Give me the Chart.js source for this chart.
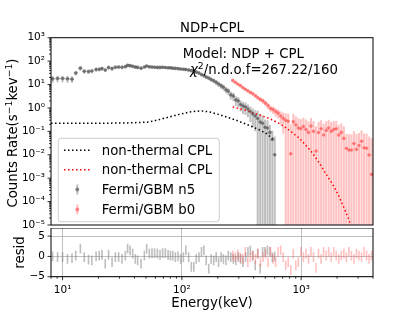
<!DOCTYPE html>
<html><head><meta charset="utf-8">
<script src="https://cdn.jsdelivr.net/npm/chart.js@4.4.0/dist/chart.umd.min.js"></script>
<style>
html,body{margin:0;padding:0;background:#fff;}
#wrap{position:relative;width:415px;height:311px;overflow:hidden;background:#fff;}
canvas{position:absolute;left:0;}
#cTop{top:0;width:415px;height:229px;}
#cRes{top:228px;width:415px;height:83px;}
</style></head><body>
<div id="wrap">
<canvas id="cTop" width="415" height="229"></canvas>
<canvas id="cRes" width="415" height="83"></canvas>
</div>
<script>
// ---------------- data ----------------
const titleText = 'NDP+CPL';
const modelText = 'Model: NDP + CPL';
const chiValue = '267.22/160';
const legendLabels = ['non-thermal CPL', 'non-thermal CPL', 'Fermi/GBM n5', 'Fermi/GBM b0'];

const yTickValues = [1e-5, 1e-4, 1e-3, 1e-2, 1e-1, 1, 10, 100, 1000];
const yTickLabels = ['10⁻⁵', '10⁻⁴', '10⁻³', '10⁻²', '10⁻¹', '10⁰', '10¹', '10²', '10³'];
const xTickValues = [10, 100, 1000];
const xTickLabels = ['10¹', '10²', '10³'];
const xMinorTicks = [8, 9, 20, 30, 40, 50, 60, 70, 80, 90, 200, 300, 400, 500, 600, 700, 800, 900, 2000, 3000, 4000];
const residTickValues = [-5, 0, 5];
const residTickLabels = ['−5', '0', '5'];

const n5Energy = [8.24, 9.08, 10.0, 11.0, 12.0, 12.9, 14.1, 15.2, 16.5, 17.6, 19.1, 20.3, 21.4, 22.8, 24.3, 26.0, 27.7, 29.5, 31.5, 33.6, 35.1, 36.8, 38.7, 40.7, 42.6, 45.5, 48.5, 50.7, 53.4, 56.2, 59.1, 62.3, 65.6, 69.0, 72.7, 76.6, 80.1, 83.8, 88.2, 92.9, 97.7, 103, 108, 114, 120,
  126, 132, 139, 146, 153, 160, 168, 176, 185, 194, 203, 213, 223, 234, 245, 257, 270, 283, 297, 311, 326, 342, 358, 375, 393, 412, 432, 453, 475, 498, 522, 547, 573, 600];
const n5Rate = [17.5, 18, 18, 17.5, 17, 31, 50, 37, 36, 38, 44, 45, 48, 42, 53, 48, 55, 56, 55, 58, 66, 64, 60, 56, 54, 50, 56, 62, 57, 56, 55, 54, 54, 55, 53, 52, 52, 50, 49, 48, 46, 45, 44, 42, 40,
  37, 34, 31, 27, 24, 21, 19, 16.5, 14.5, 12.5, 10.5, 9.0, 7.6, 6.0, 5.2, 3.6, 3.2, 2.2, 2.0, 1.4, 1.2, 1.1, 0.9, 0.7, 0.55, 0.45, 0.35, 0.25, 0.22, 0.15, 0.14, 0.09, 0.045, 0.01];
const n5Err = [5.5, 5.5, 5.5, 5.5, 5, 7, 10, 8, 8, 8, 9, 9, 9, 8, 10, 9, 10, 10, 10, 10, 11, 11, 10, 10, 9, 8, 9, 10, 9, 9, 9, 9, 9, 9, 8.5, 8.5, 8.5, 8, 8, 8, 7.5, 7.5, 7.5, 7, 7,
  6.5, 6, 5.5, 5, 4.5, 4, 3.8, 3.4, 3.2, 2.9, 2.6, 2.4, 2.1, 1.8, 1.7, 1.3, 1.2, 0.95, 0.9, 0.7, 0.65, 0.6, 0.5, 0.45, 0.4, 0.35, 0.4, 0.3, 0.25, 0.17, 0.16, 0.1, 0.06, 0.05];
const n5Resid = [0, -0.2, -0.2, -0.6, -0.4, 0.2, 1.9, -0.2, -0.8, -1.0, 0, 0.2, 0.4, -1.8, 0.4, -1.4, -0.2, -0.2, -0.6, 0.2, 1.9, 1.5, 0.7, -0.6, -1.0, -1.8, 0.2, 1.9, 0.7, 0.8, 0.8, 0.7, 0.4, 0.8, 0.8, 0.4, 0.2, 0.2, -0.2, 0, -0.6, -0.2, 1.5, -0.2, -2.6,
  -2.6, -0.6, -0.2, 1.1, 1.5, -1.0, -3.0, -0.6, -1, -0.2, -1.4, -0.2, -0.6, -1, 0.2, -0.2, -0.6, -1, -0.2, -0.6, -1.4, -0.2, 1.1, 1.5, 0.2, -2.2, 0.7, -3.0, 1.1, 1.1, 1.5, 1.1, -0.2, 0];

const b0Energy = [267, 280, 294, 309, 324, 340, 357, 375, 394, 414, 434, 456, 479, 503, 528, 554, 582, 611, 641, 673, 707, 742, 779, 818, 859, 902, 947, 994, 1044, 1096, 1151, 1208, 1269, 1332, 1399, 1469, 1542, 1619, 1700, 1785, 1874, 1968, 2066, 2170, 2278, 2392, 2512, 2637, 2769, 2908, 3053, 3206, 3366, 3534, 3711, 3897];
const b0Rate = [15, 12.5, 10.5, 9, 7.5, 6.3, 5.4, 4.6, 4.0, 3.3, 2.7, 2.3, 2.0, 1.6, 1.25, 0.95, 0.85, 0.7, 0.6, 0.45, 0.36, 0.30, 0.27, 0.011, 0.26, 0.19, 0.14, 0.13, 0.16, 0.12, 0.09, 0.17, 0.10, 0.0145, 0.089, 0.13, 0.07, 0.11, 0.14, 0.10, 0.12, 0.13, 0.069, 0.09, 0.05, 0.019, 0.016, 0.016, 0.03, 0.017, 0.025, 0.038, 0.02, 0.019, 0.0098, 0.00145];
const b0Err = [2, 1.8, 1.5, 1.3, 1.1, 0.9, 0.8, 0.7, 0.6, 0.55, 0.45, 0.5, 0.45, 0.4, 0.35, 0.3, 0.3, 0.28, 0.25, 0.25, 0.28, 0.3, 0.3, 0.2, 0.3, 0.25, 0.22, 0.2, 0.22, 0.2, 0.18, 0.2, 0.18, 0.15, 0.16, 0.17, 0.14, 0.16, 0.17, 0.15, 0.15, 0.15, 0.12, 0.13, 0.11, 0.06, 0.06, 0.06, 0.07, 0.06, 0.06, 0.07, 0.06, 0.06, 0.05, 0.05];
const b0Resid = [0.2, -0.2, 0.5, -0.3, -0.6, 1.1, -1.4, -0.2, 0.2, -0.6, 0.7, -1.4, -0.2, 0.7, -1.4, 1.1, -0.6, -1.4, 1.1, 1.5, -0.2, -2.2, -1.4, -3.4, 0.7, -2.2, -1.4, 1.1, -0.2, 0.7, -0.6, 1.1, -0.2, -2.8, 0.7, -0.6, 1.1, 0.2, 1.1, -0.2, 1.1, 0.2, -0.6, 0.2, 0.7, -0.2, 1.1, 0.2, -0.6, 0.7, 0.2, -0.2, 1.1, 0.2, -0.6, 0.2];
const residHalf = 1.2;

const cplN5Energy = [8, 20, 35, 45, 53, 65, 78, 95, 115, 130, 148, 170, 195, 240, 285, 366, 440, 510, 595];
const cplN5Rate = [0.22, 0.22, 0.23, 0.24, 0.25, 0.32, 0.41, 0.53, 0.66, 0.72, 0.74, 0.68, 0.56, 0.40, 0.30, 0.18, 0.12, 0.081, 0.043];
const cplB0Energy = [267, 340, 438, 542, 640, 724, 845, 968, 1087, 1200, 1294, 1380, 1472, 1560, 1663, 1780, 1903, 2040, 2180, 2330, 2490, 2650];
const cplB0Rate = [1.1, 0.8, 0.52, 0.35, 0.23, 0.16, 0.087, 0.05, 0.026, 0.015, 0.0089, 0.0055, 0.0033, 0.002, 0.0012, 7e-4, 4e-4, 2e-4, 9.3e-5, 4.3e-5, 1.9e-5, 8e-6];

// ---------------- style ----------------
const FONT = "'DejaVu Sans', sans-serif";
const FS = 13.3;
const TFS = 10.5;
const GRAY_BAR = 'rgba(125,125,125,0.5)';
const RED_BAR = 'rgba(255,90,90,0.38)';
const GRAY_PT = 'rgba(75,75,75,0.6)';
const RED_PT = 'rgba(255,80,80,0.6)';
Chart.defaults.font.family = FONT;
Chart.defaults.color = '#000';

const toXY = (E, V) => E.map((e, i) => ({x: e, y: V[i]}));
const labelFor = (vals, labs) => (v) => {
  const i = vals.findIndex(t => Math.abs(t - v) <= Math.abs(t) * 1e-6 + 1e-12);
  return i >= 0 ? labs[i] : '';
};
const zeroPad = (s) => { s.paddingTop = 0; s.paddingBottom = 0; s.paddingLeft = 0; s.paddingRight = 0; };

function drawRich(ctx, parts, x, y) {
  let cx = x;
  for (const p of parts) {
    const size = p.sup ? FS * 0.7 : FS;
    ctx.font = (p.italic ? 'italic ' : '') + size + 'px ' + FONT;
    ctx.fillText(p.t, cx, p.sup ? y - FS * 0.4 : y);
    cx += ctx.measureText(p.t).width;
  }
  return cx - x;
}
function richWidth(ctx, parts) {
  let w = 0;
  for (const p of parts) {
    const size = p.sup ? FS * 0.7 : FS;
    ctx.font = (p.italic ? 'italic ' : '') + size + 'px ' + FONT;
    w += ctx.measureText(p.t).width;
  }
  return w;
}

function drawErrBars(ctx, xs, ys, E, V, Er, color) {
  ctx.strokeStyle = color;
  ctx.lineCap = 'butt';
  for (let i = 0; i < E.length; i++) {
    const px = xs.getPixelForValue(E[i]);
    const py = ys.getPixelForValue(V[i]);
    const lo = V[i] - Er[i];
    const pyLo = lo > 0 ? ys.getPixelForValue(lo) : ys.bottom + 5;
    const pyHi = ys.getPixelForValue(V[i] + Er[i]);
    const eL = i > 0 ? Math.sqrt(E[i - 1] * E[i]) : E[i] * Math.sqrt(E[i] / E[i + 1]);
    const eR = i < E.length - 1 ? Math.sqrt(E[i] * E[i + 1]) : E[i] * Math.sqrt(E[i] / E[i - 1]);
    ctx.lineWidth = 2;
    ctx.beginPath();
    ctx.moveTo(px, pyLo); ctx.lineTo(px, pyHi);
    ctx.stroke();
    ctx.lineWidth = 1.5;
    ctx.beginPath();
    ctx.moveTo(xs.getPixelForValue(eL), py); ctx.lineTo(xs.getPixelForValue(eR), py);
    ctx.stroke();
  }
}

const topDeco = {
  id: 'topDeco',
  beforeDatasetsDraw(chart) {
    const {ctx, chartArea: a, scales: {x, y}} = chart;
    ctx.save();
    ctx.beginPath(); ctx.rect(a.left, a.top, a.right - a.left, a.bottom - a.top); ctx.clip();
    drawErrBars(ctx, x, y, b0Energy, b0Rate, b0Err, RED_BAR);
    drawErrBars(ctx, x, y, n5Energy, n5Rate, n5Err, GRAY_BAR);
    ctx.restore();
  },
  afterDraw(chart) {
    const {ctx, chartArea: a, scales: {x, y}} = chart;
    ctx.save();
    ctx.strokeStyle = '#000'; ctx.lineWidth = 1;
    ctx.strokeRect(a.left, a.top, a.right - a.left, a.bottom - a.top);
    ctx.lineWidth = 0.8;
    ctx.beginPath();
    for (const v of yTickValues) {
      const py = y.getPixelForValue(v);
      ctx.moveTo(a.left - 3.5, py); ctx.lineTo(a.left, py);
    }
    for (let d = -5; d < 3; d++) for (let m = 2; m <= 9; m++) {
      const py = y.getPixelForValue(m * Math.pow(10, d));
      ctx.moveTo(a.left - 2, py); ctx.lineTo(a.left, py);
    }
    ctx.stroke();
    ctx.fillStyle = '#000';
    ctx.textBaseline = 'alphabetic';
    ctx.font = FS + 'px ' + FONT;
    ctx.textAlign = 'center';
    ctx.fillText(titleText, (a.left + a.right) / 2, 32);
    ctx.textAlign = 'left';
    ctx.fillText(modelText, 182.7, 58);
    drawRich(ctx, [{t: 'χ', italic: true}, {t: '2', sup: true}, {t: '/n.d.o.f=' + chiValue}], 190, 74);
    const yl = [{t: 'Counts Rate(s'}, {t: '−1', sup: true}, {t: 'kev'}, {t: '−1', sup: true}, {t: ')'}];
    const w = richWidth(ctx, yl);
    ctx.save();
    ctx.translate(17.3, 133);
    ctx.rotate(-Math.PI / 2);
    drawRich(ctx, yl, -w / 2, 0);
    ctx.restore();
    // legend
    const L = {x0: 58.3, y0: 138.3, x1: 219.3, y1: 221.7, r: 3};
    ctx.beginPath();
    ctx.moveTo(L.x0 + L.r, L.y0);
    ctx.arcTo(L.x1, L.y0, L.x1, L.y1, L.r);
    ctx.arcTo(L.x1, L.y1, L.x0, L.y1, L.r);
    ctx.arcTo(L.x0, L.y1, L.x0, L.y0, L.r);
    ctx.arcTo(L.x0, L.y0, L.x1, L.y0, L.r);
    ctx.closePath();
    ctx.fillStyle = 'rgba(255,255,255,0.8)';
    ctx.fill();
    ctx.strokeStyle = '#cccccc'; ctx.lineWidth = 1;
    ctx.stroke();
    const rows = [150.3, 169.8, 189.5, 209.4];
    ctx.lineWidth = 1.5; ctx.setLineDash([1.5, 2.5]);
    ctx.strokeStyle = '#000';
    ctx.beginPath(); ctx.moveTo(64, rows[0]); ctx.lineTo(91, rows[0]); ctx.stroke();
    ctx.strokeStyle = '#ff0000';
    ctx.beginPath(); ctx.moveTo(64, rows[1]); ctx.lineTo(91, rows[1]); ctx.stroke();
    ctx.setLineDash([]);
    const mk = [[GRAY_BAR, GRAY_PT, rows[2]], [RED_BAR, RED_PT, rows[3]]];
    for (const [bc, pc, ry] of mk) {
      ctx.strokeStyle = bc; ctx.lineWidth = 2;
      ctx.beginPath(); ctx.moveTo(77.3, ry - 5); ctx.lineTo(77.3, ry + 5); ctx.stroke();
      ctx.fillStyle = pc;
      ctx.beginPath(); ctx.arc(77.3, ry, 2, 0, Math.PI * 2); ctx.fill();
    }
    ctx.fillStyle = '#000';
    ctx.font = FS + 'px ' + FONT;
    for (let i = 0; i < 4; i++) ctx.fillText(legendLabels[i], 101.7, rows[i] + 4.2);
    ctx.restore();
  }
};

new Chart(document.getElementById('cTop'), {
  type: 'scatter',
  data: {datasets: [
    {label: legendLabels[0], data: toXY(cplN5Energy, cplN5Rate), showLine: true, borderColor: '#000', borderWidth: 1.5, borderDash: [1.5, 2.5], pointRadius: 0, order: 3},
    {label: legendLabels[1], data: toXY(cplB0Energy, cplB0Rate), showLine: true, borderColor: '#ff0000', borderWidth: 1.5, borderDash: [1.5, 2.5], pointRadius: 0, order: 4},
    {label: legendLabels[2], data: toXY(n5Energy, n5Rate), pointRadius: 1.8, backgroundColor: GRAY_PT, pointBackgroundColor: GRAY_PT, pointBorderWidth: 0, order: 1},
    {label: legendLabels[3], data: toXY(b0Energy, b0Rate), pointRadius: 1.8, backgroundColor: RED_PT, pointBackgroundColor: RED_PT, pointBorderWidth: 0, order: 2}
  ]},
  options: {
    responsive: false, animation: false, devicePixelRatio: 1,
    layout: {padding: {left: 0, right: 42, top: 37.7, bottom: 0.7}},
    plugins: {legend: {display: false}, tooltip: {enabled: false}, title: {display: false}},
    scales: {
      x: {type: 'logarithmic', min: 8, max: 4000, display: false},
      y: {type: 'logarithmic', min: 1e-5, max: 1e3, position: 'left',
        afterBuildTicks: s => { s.ticks = yTickValues.map(v => ({value: v})); },
        afterFit: s => { s.width = 51; zeroPad(s); },
        grid: {display: false, drawTicks: false}, border: {display: false},
        ticks: {autoSkip: false, padding: 6, font: {size: TFS}, color: '#000', callback: labelFor(yTickValues, yTickLabels)}
      }
    }
  },
  plugins: [topDeco]
});

const resDeco = {
  id: 'resDeco',
  beforeDatasetsDraw(chart) {
    const {ctx, chartArea: a, scales: {x, y}} = chart;
    ctx.save();
    ctx.beginPath(); ctx.rect(a.left, a.top, a.right - a.left, a.bottom - a.top); ctx.clip();
    ctx.lineWidth = 1.6;
    const sets = [[n5Energy, n5Resid, GRAY_BAR], [b0Energy, b0Resid, RED_BAR]];
    for (const [E, R, c] of sets) {
      ctx.strokeStyle = c;
      for (let i = 0; i < E.length; i++) {
        const px = x.getPixelForValue(E[i]);
        ctx.beginPath();
        ctx.moveTo(px, y.getPixelForValue(R[i] - residHalf));
        ctx.lineTo(px, y.getPixelForValue(R[i] + residHalf));
        ctx.stroke();
      }
    }
    ctx.restore();
  },
  afterDraw(chart) {
    const {ctx, chartArea: a, scales: {x, y}} = chart;
    ctx.save();
    ctx.strokeStyle = '#000'; ctx.lineWidth = 1;
    ctx.strokeRect(a.left, a.top, a.right - a.left, a.bottom - a.top);
    ctx.lineWidth = 0.8;
    ctx.beginPath();
    for (const v of residTickValues) {
      const py = y.getPixelForValue(v);
      ctx.moveTo(a.left - 3.5, py); ctx.lineTo(a.left, py);
    }
    for (const v of xTickValues) {
      const px = x.getPixelForValue(v);
      ctx.moveTo(px, a.bottom); ctx.lineTo(px, a.bottom + 3.5);
    }
    for (const v of xMinorTicks) {
      const px = x.getPixelForValue(v);
      ctx.moveTo(px, a.bottom); ctx.lineTo(px, a.bottom + 2);
    }
    ctx.stroke();
    ctx.fillStyle = '#000';
    ctx.font = FS + 'px ' + FONT;
    ctx.textAlign = 'center';
    ctx.textBaseline = 'alphabetic';
    ctx.fillText('Energy(keV)', (a.left + a.right) / 2, 79.3);
    ctx.save();
    ctx.translate(23.5, 24.5);
    ctx.rotate(-Math.PI / 2);
    ctx.fillText('resid', 0, 0);
    ctx.restore();
    ctx.restore();
  }
};

new Chart(document.getElementById('cRes'), {
  type: 'scatter',
  data: {datasets: [
    {label: legendLabels[2], data: toXY(n5Energy, n5Resid), pointRadius: 0},
    {label: legendLabels[3], data: toXY(b0Energy, b0Resid), pointRadius: 0}
  ]},
  options: {
    responsive: false, animation: false, devicePixelRatio: 1,
    layout: {padding: {left: 0, right: 42, top: 0, bottom: 0}},
    plugins: {legend: {display: false}, tooltip: {enabled: false}},
    scales: {
      x: {type: 'logarithmic', min: 8, max: 4000, position: 'bottom',
        afterBuildTicks: s => { s.ticks = xTickValues.map(v => ({value: v})); },
        afterFit: s => { s.height = 34.3; zeroPad(s); },
        grid: {display: true, drawOnChartArea: true, drawTicks: false, color: '#b0b0b0', lineWidth: 0.8},
        border: {display: false},
        ticks: {autoSkip: false, maxRotation: 0, padding: 7, font: {size: TFS}, color: '#000', callback: labelFor(xTickValues, xTickLabels)}
      },
      y: {type: 'linear', min: -5, max: 7, position: 'left',
        afterBuildTicks: s => { s.ticks = residTickValues.map(v => ({value: v})); },
        afterFit: s => { s.width = 51; zeroPad(s); },
        grid: {display: true, drawOnChartArea: true, drawTicks: false, color: '#b0b0b0', lineWidth: 0.8},
        border: {display: false},
        ticks: {autoSkip: false, padding: 6, font: {size: TFS}, color: '#000', callback: labelFor(residTickValues, residTickLabels)}
      }
    }
  },
  plugins: [resDeco]
});
</script>
</body></html>
